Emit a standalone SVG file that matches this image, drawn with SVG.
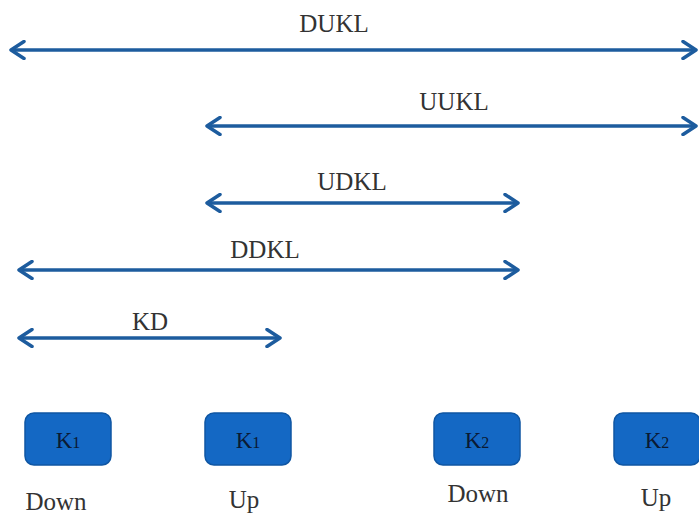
<svg xmlns="http://www.w3.org/2000/svg" width="699" height="521" viewBox="0 0 699 521">
<style>
.lbl{font-family:"Liberation Serif","Times New Roman",serif;font-size:25px;fill:#333;text-anchor:middle}
.ktx{font-family:"Liberation Serif","Times New Roman",serif;font-size:23px;fill:#0a1a33;text-anchor:middle}
.box{fill:#1468c4;stroke:#0f56a3;stroke-width:1.5}
.conn{stroke:#1d5c9e;stroke-width:3.5;fill:none}
</style>
<defs>
<marker id="ah" viewBox="0 0 20 20" refX="17" refY="10" markerWidth="20" markerHeight="20" markerUnits="userSpaceOnUse" orient="auto-start-reverse">
<path d="M4,1.5 L17,10 L4,18.5" fill="none" stroke="#1d5c9e" stroke-width="3.5" stroke-linecap="round" stroke-linejoin="round"/>
</marker>
</defs>
<rect width="699" height="521" fill="#fff"/>
<g id="connectors">
<line class="conn" x1="11" y1="50" x2="696" y2="50" marker-start="url(#ah)" marker-end="url(#ah)"/>
<line class="conn" x1="207" y1="126" x2="696" y2="126" marker-start="url(#ah)" marker-end="url(#ah)"/>
<line class="conn" x1="207" y1="203" x2="518" y2="203" marker-start="url(#ah)" marker-end="url(#ah)"/>
<line class="conn" x1="19" y1="270" x2="518" y2="270" marker-start="url(#ah)" marker-end="url(#ah)"/>
<line class="conn" x1="19" y1="338" x2="280" y2="338" marker-start="url(#ah)" marker-end="url(#ah)"/>
<text class="lbl" x="334" y="32">DUKL</text>
<text class="lbl" x="454" y="110">UUKL</text>
<text class="lbl" x="352" y="190">UDKL</text>
<text class="lbl" x="265" y="258">DDKL</text>
<text class="lbl" x="150" y="330">KD</text>
</g>
<g id="k1-down">
<rect class="box" x="25" y="413" width="86" height="52" rx="9"/>
<text class="ktx" x="68" y="448">K<tspan font-size="16">1</tspan></text>
<text class="lbl" x="56" y="510">Down</text>
</g>
<g id="k1-up">
<rect class="box" x="205" y="413" width="86" height="52" rx="9"/>
<text class="ktx" x="248" y="448">K<tspan font-size="16">1</tspan></text>
<text class="lbl" x="244" y="508">Up</text>
</g>
<g id="k2-down">
<rect class="box" x="434" y="413" width="86" height="52" rx="9"/>
<text class="ktx" x="477" y="448">K<tspan font-size="16">2</tspan></text>
<text class="lbl" x="478" y="502">Down</text>
</g>
<g id="k2-up">
<rect class="box" x="614" y="413" width="86" height="52" rx="9"/>
<text class="ktx" x="657" y="448">K<tspan font-size="16">2</tspan></text>
<text class="lbl" x="656" y="506">Up</text>
</g>
</svg>
